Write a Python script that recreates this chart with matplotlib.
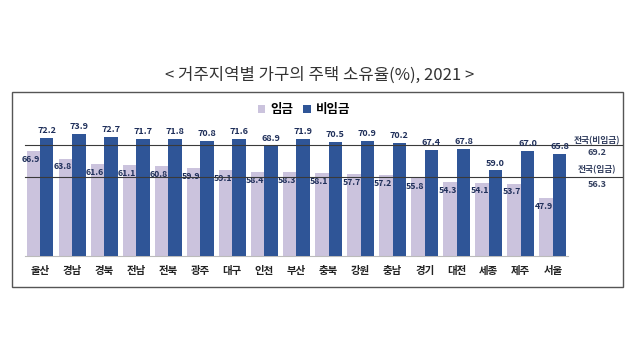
import matplotlib
matplotlib.use("Agg")
import matplotlib.pyplot as plt
import matplotlib.transforms as mtransforms
from matplotlib.patches import Rectangle, Patch

plt.rcParams["font.family"] = ["Noto Sans CJK KR", "DejaVu Sans"]

regions = ["울산", "경남", "경북", "전남", "전북", "광주", "대구", "인천", "부산",
           "충북", "강원", "충남", "경기", "대전", "세종", "제주", "서울"]
wage = [66.9, 63.8, 61.6, 61.1, 60.8, 59.9, 59.1, 58.4, 58.3,
        58.1, 57.7, 57.2, 55.8, 54.3, 54.1, 53.7, 47.9]
non_wage = [72.2, 73.9, 72.7, 71.7, 71.8, 70.8, 71.6, 68.9, 71.9,
            70.5, 70.9, 70.2, 67.4, 67.8, 59.0, 67.0, 65.8]
national_non_wage = 69.2
national_wage = 56.3

light = "#cbc3dd"
dark = "#2f5597"
label_color = "#1f2f5a"

fig = plt.figure(figsize=(6.4, 3.6), dpi=100)
fig.patch.set_facecolor("white")

# outer frame with a little shadow
shadow = Rectangle((0.021, 0.199), 0.954, 0.541, transform=fig.transFigure,
                   facecolor="#a0a0a0", edgecolor="none", zorder=0)
frame = Rectangle((0.019, 0.203), 0.954, 0.541, transform=fig.transFigure,
                  facecolor="white", edgecolor="#555555", linewidth=1.0, zorder=0.5)
fig.patches.extend([shadow, frame])

ax = fig.add_axes([0.039, 0.289, 0.8485, 0.382])
ax.set_facecolor("none")
ax.set_zorder(2)

x = list(range(len(regions)))
w = 0.42
ax.bar([i - w / 2 for i in x], wage, width=w, color=light, zorder=2)
ax.bar([i + w / 2 for i in x], non_wage, width=w, color=dark, zorder=3)

ax.set_xlim(-0.47, len(regions) - 0.53)
ax.set_ylim(24.5, 80)

for i in x:
    ax.annotate(f"{non_wage[i]:.1f}", (i + w / 2, non_wage[i]), xytext=(0, 2),
                textcoords="offset points", ha="center", va="bottom",
                fontsize=6.5, fontweight="bold", color=label_color, zorder=5)
    # wage labels sit under the dark bars, so the right edge gets clipped a bit
    ax.annotate(f"{wage[i]:.1f}", (i - w / 2, wage[i]), xytext=(-1.8, -6),
                textcoords="offset points", ha="center", va="center",
                fontsize=6.3, fontweight="bold", color=label_color, zorder=2.5)

# national reference lines extending past the bars
trans = mtransforms.blended_transform_factory(ax.transAxes, ax.transData)
for val in (national_non_wage, national_wage):
    ax.plot([0, 1.099], [val, val], transform=trans, color="#3a3a3a",
            linewidth=0.8, clip_on=False, zorder=4)

tx = 1.053
ax.text(tx, national_non_wage, "전국(비임금)", transform=trans, ha="center",
        va="bottom", fontsize=6.3, fontweight="bold", color="#333f5f")
ax.text(tx, national_non_wage - 1.2, f"{national_non_wage:.1f}", transform=trans,
        ha="center", va="top", fontsize=6.5, fontweight="bold", color="#333f5f")
ax.text(tx, national_wage + 1.0, "전국(임금)", transform=trans, ha="center",
        va="bottom", fontsize=6.3, fontweight="bold", color="#333f5f")
ax.text(tx, national_wage - 1.2, f"{national_wage:.1f}", transform=trans,
        ha="center", va="top", fontsize=6.5, fontweight="bold", color="#333f5f")

ax.set_xticks(x)
ax.set_xticklabels(regions, fontsize=7.5, fontweight="bold", color="#222222")
ax.tick_params(axis="x", length=0, pad=7)
ax.set_yticks([])
for side in ("left", "right", "top"):
    ax.spines[side].set_visible(False)
ax.spines["bottom"].set_color("#bbbbbb")
ax.spines["bottom"].set_linewidth(0.8)

handles = [Patch(facecolor=light, label="임금"), Patch(facecolor=dark, label="비임금")]
fig.legend(handles=handles, loc="center", bbox_to_anchor=(0.475, 0.695), ncol=2,
           frameon=False, prop={"weight": "bold", "size": 9}, handlelength=0.6,
           handleheight=0.6, handletextpad=0.4, columnspacing=0.8)

fig.text(0.5, 0.792, "< 거주지역별 가구의 주택 소유율(%), 2021 >", ha="center",
         va="center", fontsize=12, color="#333333")

fig.savefig("out.png", dpi=100, facecolor="white")
